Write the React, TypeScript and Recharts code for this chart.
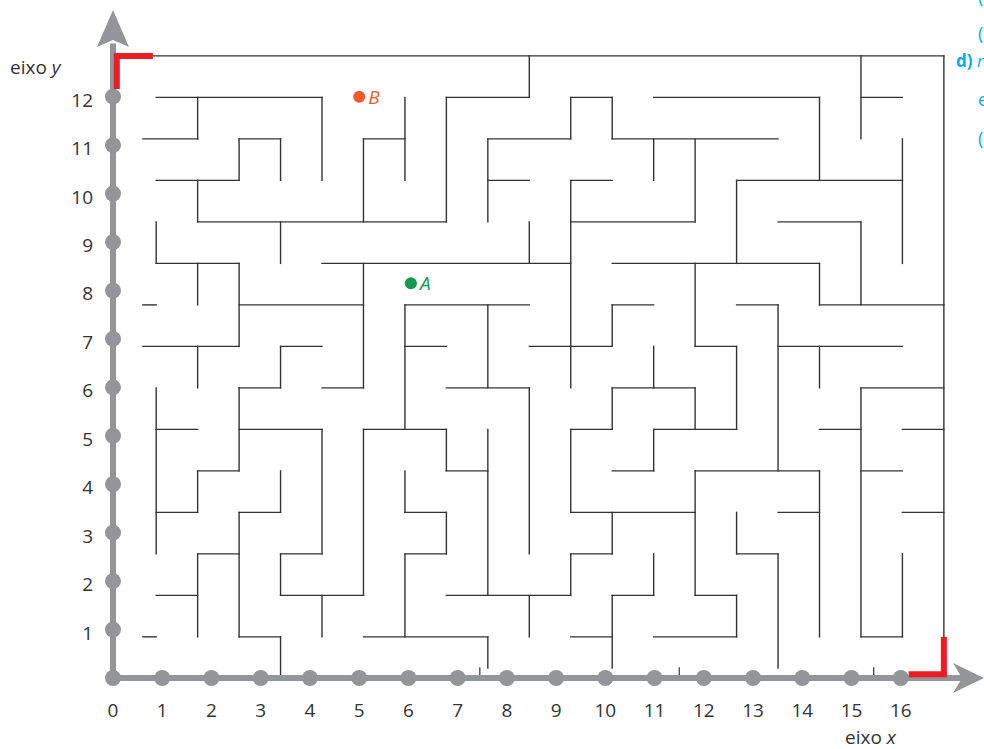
import React from 'react';
import { ComposedChart, XAxis, YAxis, Scatter, ReferenceLine, ReferenceDot } from 'recharts';

// Axis ticks (main coordinate plane)
const xTicks = [0, 1, 2, 3, 4, 5, 6, 7, 8, 9, 10, 11, 12, 13, 14, 15, 16];
const yTicks = [1, 2, 3, 4, 5, 6, 7, 8, 9, 10, 11, 12];
const xDots = xTicks.map((v) => ({ x: v, y: 0 }));
const yDots = yTicks.map((v) => ({ x: 0, y: v }));

// Marked points
const pointA = [{ x: 6.05, y: 8.15, label: 'A' }];
const pointB = [{ x: 5, y: 12, label: 'B' }];

// small marks on the x axis
const axisMarks = [7.45, 11.5, 15.45];

// Maze walls in maze-grid units: horizontal [row, colFrom, colTo] (row 0 = top)
const hWalls: number[][] = [
  [0, 0.92, 20], [1, 1, 5], [2, 0.68, 2], [2, 3, 4], [3, 1, 3], [4, 2, 8], [2, 6, 7],
  [1, 8, 10], [2, 9, 11], [3, 9, 10], [1, 11, 12], [2, 12, 16], [1, 13, 17], [3, 11, 12],
  [4, 11, 14], [5, 5, 11], [5, 12, 17], [1, 18, 19], [3, 15, 19], [4, 16, 18], [5, 1, 3],
  [6, 0.68, 1], [6, 3, 6], [7, 0.68, 3], [7, 4, 5], [8, 3, 4], [8, 5, 6], [9, 1, 2],
  [9, 3, 5], [9, 6, 8], [10, 2, 3], [6, 7, 10], [7, 7, 8], [7, 10, 12], [6, 12, 13],
  [8, 12, 14], [9, 11, 12], [8, 8, 10], [10, 8, 9], [10, 12, 13], [9, 13, 15], [7, 14, 15],
  [6, 17, 20], [6, 15, 16], [7, 16, 19], [8, 18, 20], [9, 17, 18], [9, 19, 20], [10, 14, 17],
  [10, 18, 19], [11, 1, 2], [11, 3, 4], [14, 3, 4], [12, 2, 3], [13, 1, 2], [14, 0.68, 1],
  [12, 4, 5], [13, 4, 6], [14, 6, 9], [11, 11, 14], [11, 7, 8], [12, 7, 8], [12, 11, 12],
  [13, 8, 11], [13, 12, 13], [14, 11, 12], [14, 13, 15], [13, 14, 15], [12, 15, 16],
  [11, 16, 17], [14, 18, 19], [11, 19, 20],
];

// vertical [col, rowFrom, rowTo]
const vWalls: number[][] = [
  [2, 1, 2], [5, 1, 3], [3, 2, 3], [4, 2, 3], [2, 3, 4], [6, 2, 4], [7, 1, 3], [4, 4, 5],
  [1, 4, 5], [10, 0, 1], [8, 1, 4], [9, 2, 4], [11, 1, 2], [12, 1, 2], [13, 2, 3], [11, 3, 8],
  [10, 4, 5], [18, 0, 2], [17, 1, 3], [14, 2, 4], [15, 3, 5], [19, 2, 5], [18, 4, 6], [14, 5, 7],
  [17, 5, 6], [2, 5, 6], [3, 5, 7], [6, 5, 8], [2, 7, 8], [4, 7, 8], [3, 8, 10], [1, 8, 12],
  [5, 9, 12], [6, 9, 13], [2, 10, 11], [4, 10, 11], [7, 6, 9], [9, 6, 8], [12, 6, 7], [13, 7, 8],
  [12, 8, 9], [11, 9, 11], [10, 8, 12], [8, 9, 10], [9, 9, 13], [14, 8, 9], [15, 7, 9], [16, 6, 10],
  [17, 7, 8], [18, 8, 14], [13, 9, 10], [7, 10, 11], [3, 11, 14], [4, 14, 15], [2, 12, 14],
  [4, 12, 13], [5, 13, 14], [8, 11, 12], [7, 12, 14], [12, 11, 12], [11, 12, 13], [10, 13, 14],
  [13, 12, 13], [12, 13, 14.75], [9, 14, 14.75], [14, 10, 13], [15, 13, 14], [17, 10, 14],
  [15, 11, 12], [16, 12, 14.75], [19, 12, 14], [20, 0, 14],
];

// entrance / exit markers (maze units)
const redH: number[][] = [[0, 0, 0.92], [14.9, 19.15, 20.07]];
const redV: number[][] = [[0.05, -0.07, 0.8], [20, 14, 14.97]];

// maze grid -> plane units (grid cell size and origin expressed on the plane's axes)
const MAZE_X0 = 0.035;
const MAZE_DX = 0.842;
const MAZE_Y0 = 12.842;
const MAZE_DY = 0.8566;
const mx = (c: number) => MAZE_X0 + c * MAZE_DX;
const my = (j: number) => MAZE_Y0 - j * MAZE_DY;

const GREY = '#939598';
const MAZE = '#333333';
const RED = '#ec1c24';
const TEXT = '#333333';
const FONT = '"Open Sans", "DejaVu Sans", sans-serif';

const XTick = (props: any) => (
  <text x={props.x} y={props.y + 39} textAnchor="middle" fontSize={19} fontFamily={FONT} fill={TEXT}>
    {props.payload.value}
  </text>
);
const YTick = (props: any) => (
  <text x={props.x - 20} y={props.y + 10} textAnchor="end" fontSize={19} fontFamily={FONT} fill={TEXT}>
    {props.payload.value}
  </text>
);

const dotShape = (p: any) => <circle cx={p.cx} cy={p.cy} r={8} fill={GREY} />;
const markShape = (color: string) => (p: any) => (
  <g>
    <circle cx={p.cx} cy={p.cy} r={6} fill={color} />
    <text x={p.cx + 9} y={p.cy + 7} fontSize={19} fontStyle="italic" fontFamily={FONT} fill={color}>
      {p.payload.label}
    </text>
  </g>
);

const seg = (key: string, x1: number, y1: number, x2: number, y2: number, stroke: string, w: number, cap = 'butt') => (
  <ReferenceLine key={key} xAxisId="main" yAxisId="main" ifOverflow="visible"
    segment={[{ x: x1, y: y1 }, { x: x2, y: y2 }]} stroke={stroke} strokeWidth={w} strokeLinecap={cap as any} />
);

export default function App() {
  return (
    <div style={{ position: 'absolute', left: 0, top: 0, width: 984, height: 749, background: '#fff', overflow: 'hidden' }}>
      <ComposedChart width={984} height={749} margin={{ top: 10, right: 0, bottom: 21, left: 73 }}>
        <XAxis xAxisId="main" dataKey="x" type="number" domain={[0, 17.69]} ticks={xTicks} interval={0}
          axisLine={false} tickLine={false} tickSize={0} tickMargin={0} height={50} tick={XTick} />
        <YAxis yAxisId="main" dataKey="y" type="number" domain={[0, 13.79]} ticks={yTicks} interval={0}
          axisLine={false} tickLine={false} tickSize={0} tickMargin={0} width={40} tick={YTick} />

        {hWalls.map(([j, c1, c2], i) => seg('h' + i, mx(c1), my(j), mx(c2), my(j), MAZE, 1.4, 'square'))}
        {vWalls.map(([c, j1, j2], i) => seg('v' + i, mx(c), my(j1), mx(c), my(j2), MAZE, 1.4, 'square'))}
        {axisMarks.map((m, i) => seg('m' + i, m, 0, m, 0.22, MAZE, 1.2))}

        {seg('ax', 0, 0, 17.3, 0, GREY, 6)}
        {seg('ay', 0, 0, 0, 13.1, GREY, 6)}
        {redH.map(([j, c1, c2], i) => seg('rh' + i, mx(c1), my(j), mx(c2), my(j), RED, 6))}
        {redV.map(([c, j1, j2], i) => seg('rv' + i, mx(c), my(j1), mx(c), my(j2), RED, 6))}
        <ReferenceDot xAxisId="main" yAxisId="main" x={17.69} y={0} ifOverflow="visible"
          shape={(p: any) => (
            <path d={`M${p.cx},${p.cy} L${p.cx - 31},${p.cy - 15} L${p.cx - 22},${p.cy} L${p.cx - 31},${p.cy + 15} Z`} fill={GREY} />
          )} />
        <ReferenceDot xAxisId="main" yAxisId="main" x={0} y={13.79} ifOverflow="visible"
          shape={(p: any) => (
            <path d={`M${p.cx},${p.cy} L${p.cx - 16},${p.cy + 37} L${p.cx},${p.cy + 30} L${p.cx + 16},${p.cy + 37} Z`} fill={GREY} />
          )} />

        <Scatter xAxisId="main" yAxisId="main" data={xDots} shape={dotShape} isAnimationActive={false} />
        <Scatter xAxisId="main" yAxisId="main" data={yDots} shape={dotShape} isAnimationActive={false} />

        <Scatter xAxisId="main" yAxisId="main" data={pointA} shape={markShape('#16994a')} isAnimationActive={false} />
        <Scatter xAxisId="main" yAxisId="main" data={pointB} shape={markShape('#f05a28')} isAnimationActive={false} />
      </ComposedChart>

      <svg width={984} height={749} style={{ position: 'absolute', left: 0, top: 0, pointerEvents: 'none' }}>
        <text x={10} y={74} fontSize={19} fontFamily={FONT} fill={TEXT}>
          eixo <tspan fontStyle="italic">y</tspan>
        </text>
        <text x={845} y={744} fontSize={19} fontFamily={FONT} fill={TEXT}>
          eixo <tspan fontStyle="italic">x</tspan>
        </text>
        <text x={978} y={3} fontSize={18} fontFamily={FONT} fill="#00aeef">(</text>
        <text x={978} y={40} fontSize={18} fontFamily={FONT} fill="#00aeef">(</text>
        <text x={956} y={67} fontSize={17} fontFamily={FONT} fill="#00aeef">
          <tspan fontWeight="bold">d)</tspan> <tspan fontStyle="italic">r</tspan>
        </text>
        <text x={978} y={106} fontSize={18} fontFamily={FONT} fill="#00aeef">e</text>
        <text x={978} y={145} fontSize={18} fontFamily={FONT} fill="#00aeef">(</text>
      </svg>
    </div>
  );
}
